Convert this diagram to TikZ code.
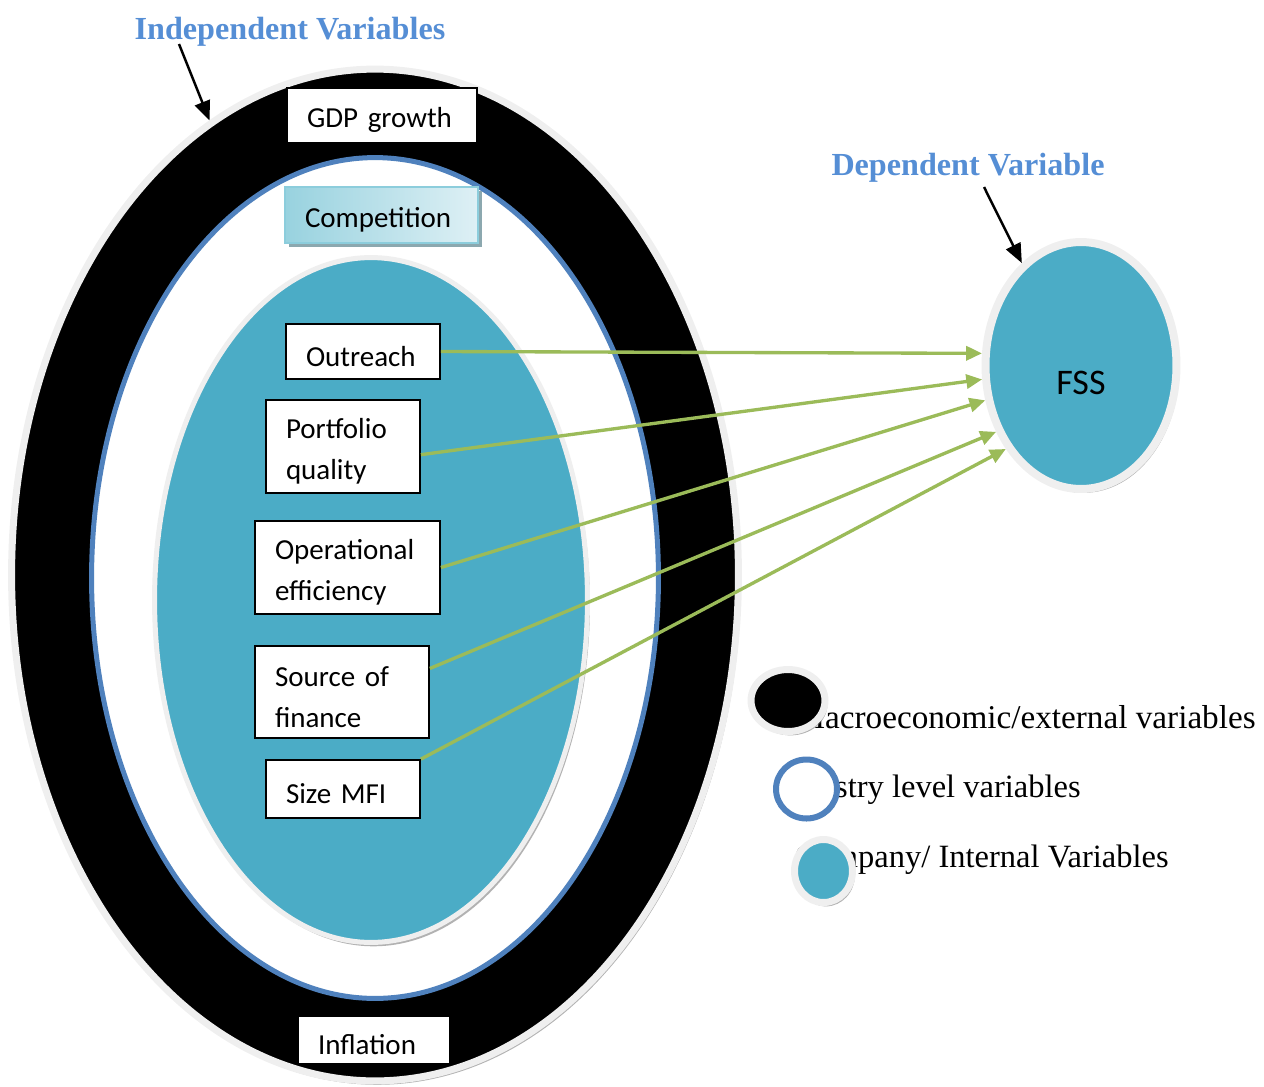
\documentclass[tikz,border=0pt]{standalone}
\usepackage{fontspec}
\setmainfont{Liberation Serif}
\newfontfamily\calibri{Carlito}
\usetikzlibrary{arrows.meta,shapes.geometric,shadows}

\definecolor{tealfill}{HTML}{4BACC6}
\definecolor{ringblue}{HTML}{4F81BD}
\definecolor{titleblue}{HTML}{558ED5}
\definecolor{arrowgreen}{HTML}{9BBB59}
\definecolor{rimgray}{HTML}{EFEFEF}

\begin{document}
\begin{tikzpicture}[x=0.02cm,y=-0.02cm,>={Triangle[length=9pt,width=8pt]},
  oval/.style={ellipse,inner sep=0pt},
  rim node/.style={oval,draw=rimgray,line width=0.14cm,
    drop shadow={shadow xshift=1.4pt,shadow yshift=-2.2pt,fill=black!55,opacity=0.55}},
  var node/.style={rectangle,draw,fill=white,line width=1pt,inner xsep=0.4cm,
    text height=17pt,align=left,font=\calibri\fontsize{16.5}{23}\selectfont},
  title node/.style={font=\bfseries\fontsize{18.3}{22}\selectfont,text=titleblue,anchor=base},
  key node/.style={inner sep=0pt,font=\fontsize{18.5}{22}\selectfont,anchor=base east},
  green arrow/.style={->,draw=arrowgreen,line width=1.9pt}]

  \useasboundingbox (0,0) rectangle (1264,1086);

  % nested circles of variables
  \node[rim node,fill=black,minimum width=14.54cm,minimum height=20.24cm] (macro) at (375,575) {};
  \node[oval,draw=ringblue,line width=0.1cm,fill=white,minimum width=11.34cm,minimum height=16.82cm] (industry) at (375,578) {};
  \node[rim node,line width=0.1cm,fill=tealfill,minimum width=8.66cm,minimum height=13.7cm] (company) at (371,600) {};

  \node[rim node,line width=0.16cm,fill=tealfill,minimum width=3.82cm,minimum height=4.94cm,
    text height=33pt,font=\calibri\fontsize{20.5}{24}\selectfont] (fss) at (1081,365.5) {FSS};

  \node[var node,text width=3cm,minimum height=1.1cm] (gdp) at (382,115.5) {GDP growth};
  \node[var node,draw={rgb,255:red,140;green,205;blue,220},left color={rgb,255:red,152;green,210;blue,223},
    right color={rgb,255:red,222;green,240;blue,245},text width=3.06cm,minimum height=1.12cm,
    drop shadow={shadow xshift=2.2pt,shadow yshift=-2.2pt,fill={rgb,255:red,140;green,168;blue,175},opacity=1}]
    (competition) at (381.5,215) {Competition};
  \node[var node,text width=2.28cm,minimum height=1.1cm] (outreach) at (363,351.5) {Outreach};
  \node[var node,text width=2.28cm,minimum height=1.86cm] (portfolio) at (343,446.5) {Portfolio\\quality};
  \node[var node,text width=2.9cm,minimum height=1.86cm] (operational) at (347.5,567.5) {Operational\\efficiency};
  \node[var node,text width=2.68cm,minimum height=1.84cm] (source) at (342,692) {Source of\\finance};
  \node[var node,text width=2.28cm,minimum height=1.16cm] (size) at (343,789) {Size MFI};
  \node[var node,text width=2.24cm,minimum height=0.96cm] (inflation) at (374,1040) {Inflation};

  \path
  (outreach.east) edge[green arrow] (fss.173)
  (portfolio.-6) edge[green arrow] (fss.188)
  (operational.east) edge[green arrow] (fss.200)
  (source.15) edge[green arrow] (fss.218)
  (size.north east) edge[green arrow] (fss.228);

  % headings
  \node[title node] (indep) at (290,39) {Independent Variables};
  \node[title node] (dep) at (968,175) {Dependent Variable};
  \coordinate (indeptail) at (179,44);
  \coordinate (deptail) at (984,187);
  \draw[-{Triangle[length=11pt,width=9pt]},line width=1.4pt] (indeptail) -- (macro.110);
  \draw[-{Triangle[length=11pt,width=9pt]},line width=1.4pt] (deptail) -- (fss.120);

  % key
  \node[key node,font=\fontsize{18.9}{22}\selectfont] (keymacrotext) at (1256,728) {Macroeconomic/external variables};
  \node[key node] (keyindustrytext) at (1081,797) {Industry level variables};
  \node[key node] (keycompanytext) at (1169,867) {Company/ Internal Variables};
  \node[rim node,fill=black,minimum width=1.48cm,minimum height=1.24cm] (keymacro) at (788,700.5) {};
  \node[oval,draw=ringblue,line width=0.12cm,fill=white,minimum width=1.22cm,minimum height=1.18cm] (keyindustry) at (806.5,789) {};
  \node[rim node,fill=tealfill,minimum width=1.16cm,minimum height=1.26cm] (keycompany) at (823.5,871) {};
\end{tikzpicture}
\end{document}
